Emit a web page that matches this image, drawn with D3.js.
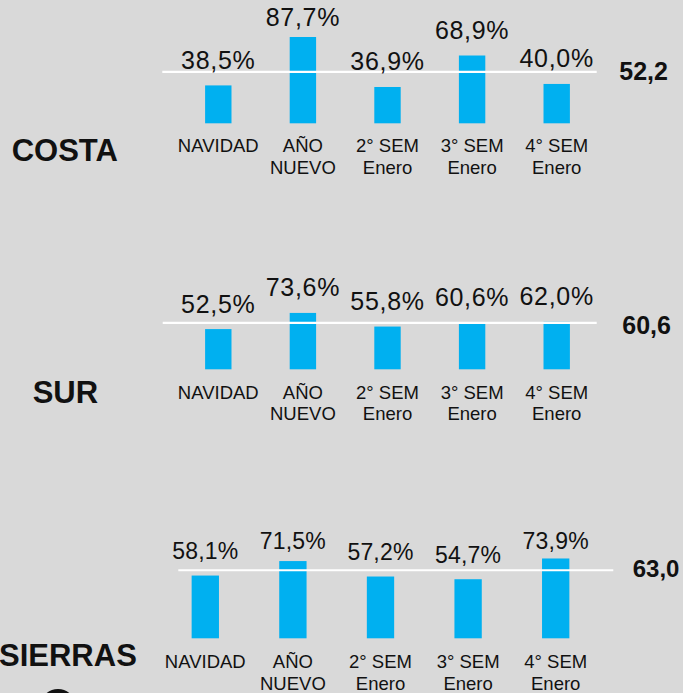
<!DOCTYPE html>
<html>
    <head>
        <meta charset="utf-8">
        <title>Ocupación por región</title>
        <script type="text/javascript" src="https://cdn.jsdelivr.net/npm/d3@7"></script>
        <style>
            html, body { margin: 0; padding: 0; background: #d9d9d9; }
            svg { display: block; }
        </style>
    </head>
    <body>
        <svg id="svg"></svg>

        <script>
            var WIDTH = 683;
            var HEIGHT = 693;

            // Data
            var categories = [["NAVIDAD"], ["AÑO", "NUEVO"], ["2° SEM", "Enero"], ["3° SEM", "Enero"], ["4° SEM", "Enero"]];
            var regions = ["COSTA", "SUR", "SIERRAS"];
            var costa = [38.5, 87.7, 36.9, 68.9, 40.0];
            var sur = [52.5, 73.6, 55.8, 60.6, 62.0];
            var sierras = [58.1, 71.5, 57.2, 54.7, 73.9];
            var averages = [52.2, 60.6, 63.0];
            var series = [costa, sur, sierras];

            // Layout of each panel (pixel positions, not data)
            var panels = [
                {x0: 176, x1: 599, base: 123.3, pxPer: 0.984, lineX: [162.3, 596.7],
                 title: [11.7, 161], avg: [619.3, 80], avgSize: 25, catY: 152, catStep: 22,
                 valSize: 25, valSpacing: 0.7, clamp: 26},
                {x0: 176, x1: 599, base: 369.3, pxPer: 0.766, lineX: [162.7, 596.7],
                 title: [32.7, 403.3], avg: [622.3, 334], avgSize: 25, catY: 399, catStep: 20.5,
                 valSize: 25, valSpacing: 0.7, clamp: 0},
                {x0: 161.5, x1: 599.5, base: 638.3, pxPer: 1.08, lineX: [178.3, 613.3],
                 title: [-1, 665.7], avg: [632.7, 577.3], avgSize: 24, catY: 668.3, catStep: 22,
                 valSize: 23, valSpacing: 0.2, clamp: 549.3}
            ];

            var locale = d3.formatLocale({decimal: ",", thousands: ".", grouping: [3], currency: ["", ""]});
            var fmt = locale.format(".1f");

            var svg = d3.select('#svg')
                        .attr("width", WIDTH)
                        .attr("height", HEIGHT)
                        .style("font-family", "'Liberation Sans', Arial, sans-serif");

            svg.append("rect")
               .attr("width", WIDTH)
               .attr("height", HEIGHT)
               .attr("fill", "#d9d9d9");

            panels.forEach(function(p, i){
                var values = series[i];
                var g = svg.append("g");

                var x = d3.scaleBand()
                          .domain(d3.range(categories.length))
                          .range([p.x0, p.x1])
                          .paddingInner(0.688)
                          .paddingOuter(0.344);

                var y = d3.scaleLinear()
                          .domain([0, 100])
                          .range([p.base, p.base - 100 * p.pxPer]);

                // bars
                g.selectAll("rect.bar")
                 .data(values)
                 .enter()
                 .append("rect")
                 .attr("class", "bar")
                 .attr("x", function(d, j){ return x(j); })
                 .attr("y", function(d){ return y(d); })
                 .attr("width", x.bandwidth())
                 .attr("height", function(d){ return y(0) - y(d); })
                 .attr("fill", "#00b0f0");

                // average line
                g.append("line")
                 .attr("x1", p.lineX[0])
                 .attr("x2", p.lineX[1])
                 .attr("y1", y(averages[i]))
                 .attr("y2", y(averages[i]))
                 .attr("stroke", "#ffffff")
                 .attr("stroke-width", 2.2);

                // value labels
                g.selectAll("text.val")
                 .data(values)
                 .enter()
                 .append("text")
                 .attr("class", "val")
                 .attr("x", function(d, j){ return x(j) + x.bandwidth() / 2; })
                 .attr("y", function(d){ return Math.max(y(d) - 16.5, p.clamp); })
                 .attr("text-anchor", "middle")
                 .attr("font-size", p.valSize + "px")
                 .attr("letter-spacing", p.valSpacing)
                 .attr("fill", "#111")
                 .text(function(d){ return fmt(d) + "%"; });

                // category labels
                var cat = g.selectAll("text.cat")
                           .data(categories)
                           .enter()
                           .append("text")
                           .attr("class", "cat")
                           .attr("x", function(d, j){ return x(j) + x.bandwidth() / 2; })
                           .attr("y", p.catY)
                           .attr("text-anchor", "middle")
                           .attr("font-size", "18.5px")
                           .attr("fill", "#111");
                cat.selectAll("tspan")
                   .data(function(d){ return d; })
                   .enter()
                   .append("tspan")
                   .attr("x", function(){ return d3.select(this.parentNode).attr("x"); })
                   .attr("dy", function(d, k){ return k === 0 ? 0 : p.catStep; })
                   .text(function(d){ return d; });

                // average value
                g.append("text")
                 .attr("x", p.avg[0])
                 .attr("y", p.avg[1])
                 .attr("font-size", p.avgSize + "px")
                 .attr("font-weight", "bold")
                 .attr("fill", "#111")
                 .text(fmt(averages[i]));

                // region name
                g.append("text")
                 .attr("x", p.title[0])
                 .attr("y", p.title[1])
                 .attr("font-size", "31px")
                 .attr("font-weight", "bold")
                 .attr("fill", "#111")
                 .text(regions[i]);
            });

            // partial round mark at bottom left
            svg.append("circle")
               .attr("cx", 58)
               .attr("cy", 707)
               .attr("r", 16)
               .attr("fill", "none")
               .attr("stroke", "#111")
               .attr("stroke-width", 4);
        </script>
    </body>
</html>
